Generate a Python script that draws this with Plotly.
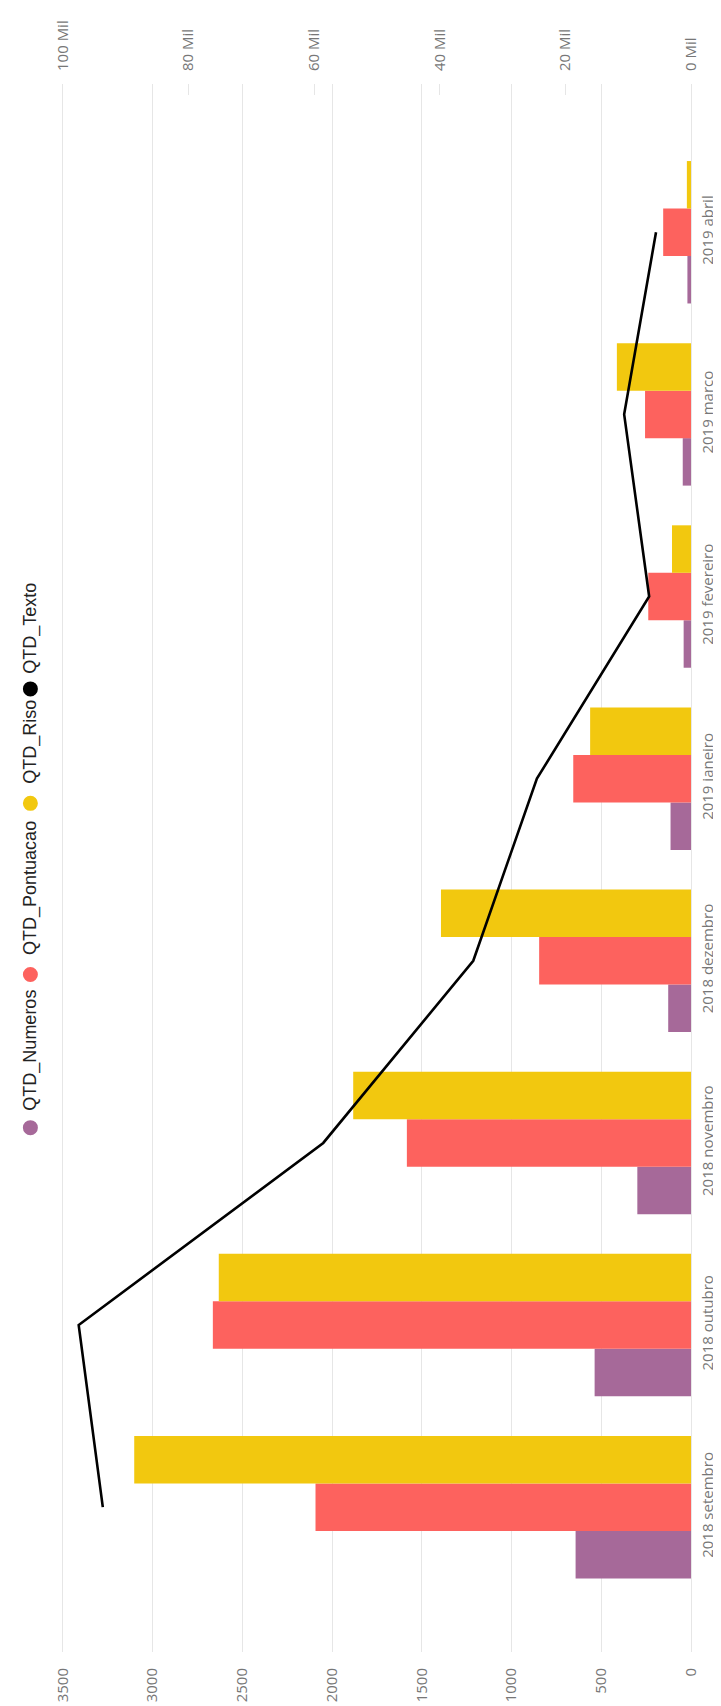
import plotly.graph_objects as go

# ---- data ----
categories = ["2018 setembro", "2018 outubro", "2018 novembro", "2018 dezembro",
              "2019 janeiro", "2019 fevereiro", "2019 março", "2019 abril"]
qtd_numeros = [643, 537, 299, 127, 114, 41, 46, 20]
qtd_pontuacao = [2092, 2664, 1583, 846, 656, 238, 256, 155]
qtd_riso = [3102, 2631, 1882, 1393, 562, 106, 413, 23]
qtd_texto = [93630, 97470, 58540, 34660, 24530, 6660, 10640, 5570]

series_names = ["QTD_Numeros", "QTD_Pontuacao", "QTD_Riso", "QTD_Texto"]
primary_ticks = [0, 500, 1000, 1500, 2000, 2500, 3000, 3500]
secondary_ticks = [0, 20000, 40000, 60000, 80000, 100000]
secondary_ticktext = ["0 Mil", "20 Mil", "40 Mil", "60 Mil", "80 Mil", "100 Mil"]

# ---- style ----
colors = ["#A66999", "#FD625E", "#F2C80F", "#000000"]
W, H = 721, 1706
ML, MR, MT, MB = 53, 30, 76, 54
PW, PH = W - ML - MR, H - MT - MB
tick_font = dict(family="Open Sans", size=15, color="#777777")
grid = "#E6E6E6"
x_max = 3510            # small pad so the 3500 gridline is drawn
x2_max = 100000 * x_max / 3500

fig = go.Figure()
for name, vals, col in zip(series_names[:3], [qtd_numeros, qtd_pontuacao, qtd_riso], colors[:3]):
    fig.add_trace(go.Bar(y=categories, x=vals, orientation="h", name=name,
                         marker=dict(color=col, line=dict(width=0))))
fig.add_trace(go.Scatter(y=categories, x=qtd_texto, xaxis="x2", mode="lines",
                         name=series_names[3], line=dict(color=colors[3], width=2.6)))

fig.update_layout(
    width=W, height=H,
    margin=dict(l=ML, r=MR, t=MT, b=MB),
    paper_bgcolor="white", plot_bgcolor="white",
    barmode="group", bargap=0.218, bargroupgap=0,
    showlegend=False,
    xaxis=dict(range=[x_max, 0], tickvals=primary_ticks, tickangle=-90,
               showgrid=True, gridcolor=grid, gridwidth=1,
               zeroline=True, zerolinecolor=grid, zerolinewidth=1,
               showline=False, ticks="", tickfont=tick_font,
               ticklabelstandoff=12),
    xaxis2=dict(range=[x2_max, 0], overlaying="x", side="top",
                tickvals=secondary_ticks, ticktext=secondary_ticktext,
                tickangle=-90, showgrid=False, zeroline=False, showline=False,
                ticks="inside", ticklen=11, tickcolor=grid, tickwidth=1,
                tickfont=tick_font, ticklabelstandoff=12),
    yaxis=dict(type="category", range=[-0.795, 7.814], side="right",
               tickangle=-90, showgrid=False, zeroline=False, showline=False,
               ticks="", tickfont=tick_font, ticklabelstandoff=6),
)

# ---- rotated legend (left side) ----
circle_y = [1125, 971, 799, 684]
label_y = [1110, 953, 781, 671]
def px_x(p):
    return (p - ML) / PW
def px_y(p):
    return (H - MB - p) / PH
for name, col, cy, ly in zip(series_names, colors, circle_y, label_y):
    fig.add_shape(type="circle", xref="paper", yref="paper",
                  xsizemode="pixel", ysizemode="pixel",
                  xanchor=px_x(22), yanchor=px_y(cy),
                  x0=-7.5, x1=7.5, y0=-7.5, y1=7.5,
                  fillcolor=col, line=dict(width=0))
    fig.add_annotation(text=name, textangle=-90, xref="paper", yref="paper",
                       x=px_x(22), y=px_y(ly), xanchor="center", yanchor="bottom",
                       showarrow=False, font=dict(family="Liberation Sans", size=18, color="#222222"))

fig.write_html("out.html")
